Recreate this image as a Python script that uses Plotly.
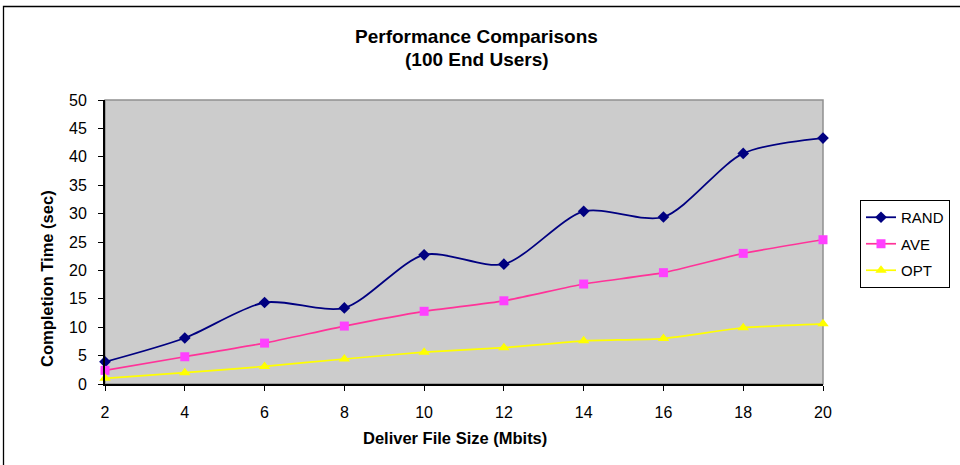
import plotly.graph_objects as go

file_size = [2, 4, 6, 8, 10, 12, 14, 16, 18, 20]
rand_vals = [3.9, 8.1, 14.35, 13.4, 22.75, 21.1, 30.4, 29.4, 40.6, 43.3]
ave_vals = [2.4, 4.8, 7.2, 10.2, 12.8, 14.65, 17.6, 19.6, 23.0, 25.4]
opt_vals = [1.0, 2.0, 3.1, 4.4, 5.6, 6.4, 7.6, 8.0, 9.9, 10.6]
y_ticks = [0, 5, 10, 15, 20, 25, 30, 35, 40, 45, 50]

FONT = "Arial, Liberation Sans, sans-serif"

W, H = 960, 465
# plot area in screen pixels
SL, SR, ST, SB = 105, 823, 100, 384
L, T = SL, ST
R = W - SR
B = H - SB
pw = W - L - R
ph = H - T - B

def px_x(x):
    return (x - SL) / pw

def px_y(y):
    return (SB - y) / ph

fig = go.Figure()
fig.add_trace(go.Scatter(
    x=file_size, y=rand_vals, name="RAND", mode="lines+markers",
    line=dict(color="#000080", width=1.8, shape="spline", smoothing=0.8),
    marker=dict(symbol="diamond", size=9, color="#000080"),
    cliponaxis=False, legendgroup="a"))
fig.add_trace(go.Scatter(
    x=file_size, y=ave_vals, name="AVE", mode="lines+markers",
    line=dict(color="#FF3399", width=1.7, shape="spline", smoothing=0.5),
    marker=dict(symbol="square", size=9, color="#FF40FF"),
    cliponaxis=False, legendgroup="b"))
fig.add_trace(go.Scatter(
    x=file_size, y=opt_vals, name="OPT", mode="lines+markers",
    line=dict(color="#FFFF00", width=1.7, shape="spline", smoothing=0.5),
    marker=dict(symbol="triangle-up", size=10, color="#FFFF00"),
    cliponaxis=False, legendgroup="c"))

fig.update_layout(
    width=W, height=H,
    margin=dict(l=L, r=R, t=T, b=B, autoexpand=False),
    paper_bgcolor="white", plot_bgcolor="#CCCCCC",
    font=dict(family=FONT, size=16, color="black"),
    showlegend=True,
    legend=dict(
        x=px_x(860), y=px_y(200), xanchor="left", yanchor="top",
        bordercolor="black", borderwidth=1, bgcolor="white",
        font=dict(family=FONT, size=15, color="black"),
        traceorder="grouped", tracegroupgap=4, itemwidth=30,
    ),
    xaxis=dict(
        range=[2, 20], tickvals=file_size, ticktext=[str(v) for v in file_size],
        showgrid=False, zeroline=False, showline=True, linecolor="black", linewidth=2,
        ticks="outside", ticklen=5, tickcolor="black", tickwidth=1,
        ticklabelstandoff=8, tickfont=dict(size=16),
    ),
    yaxis=dict(
        range=[0, 50], tickvals=y_ticks, ticktext=[str(v) for v in y_ticks],
        showgrid=False, zeroline=False, showline=True, linecolor="black", linewidth=2,
        ticks="outside", ticklen=5, tickcolor="black", tickwidth=1,
        ticklabelstandoff=8, tickfont=dict(size=16),
    ),
    shapes=[
        dict(type="rect", xref="paper", yref="paper", x0=0, x1=1, y0=0, y1=1,
             line=dict(color="#909090", width=1.5), layer="below"),
        dict(type="rect", xref="paper", yref="paper",
             x0=px_x(3.5), x1=px_x(975), y0=px_y(6.5), y1=px_y(480),
             line=dict(color="black", width=1.3), layer="above"),
    ],
    annotations=[
        dict(text="<b>Performance Comparisons</b>", xref="paper", yref="paper",
             x=px_x(477), y=px_y(37), xanchor="center", yanchor="middle",
             showarrow=False, font=dict(size=19, family=FONT)),
        dict(text="<b>(100 End Users)</b>", xref="paper", yref="paper",
             x=px_x(477), y=px_y(60), xanchor="center", yanchor="middle",
             showarrow=False, font=dict(size=19, family=FONT)),
        dict(text="<b>Deliver File Size (Mbits)</b>", xref="paper", yref="paper",
             x=px_x(455), y=px_y(438), xanchor="center", yanchor="middle",
             showarrow=False, font=dict(size=16.5, family=FONT)),
        dict(text="<b>Completion Time (sec)</b>", xref="paper", yref="paper",
             x=px_x(47), y=px_y(279), xanchor="center", yanchor="middle",
             textangle=-90, showarrow=False, font=dict(size=16.5, family=FONT)),
    ],
)

fig.write_html(
    "out.html",
    config={"displayModeBar": False},
    post_script="document.body.style.margin='0';document.body.style.overflow='hidden';",
)
